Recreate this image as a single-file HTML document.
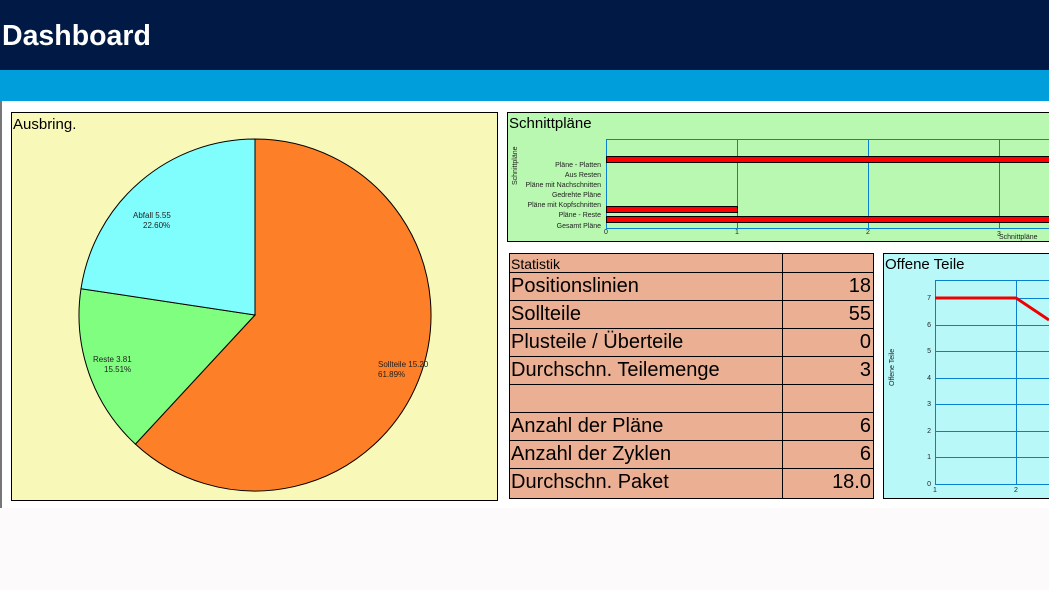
<!DOCTYPE html>
<html><head><meta charset="utf-8"><style>
html,body{margin:0;padding:0;width:1049px;height:590px;overflow:hidden;background:#fcfafa;}
svg{display:block;font-family:"Liberation Sans",Arial,sans-serif;}
</style></head><body>
<svg width="1049" height="590" viewBox="0 0 1049 590" xmlns="http://www.w3.org/2000/svg">
<rect x="0" y="0" width="1049" height="70" fill="#001a45"/>
<text x="2" y="45" font-size="28.5" font-weight="bold" fill="#fff">Dashboard</text>
<rect x="0" y="70" width="1049" height="31" fill="#009fdc"/>
<rect x="0" y="101" width="1049" height="407" fill="#ffffff"/>
<rect x="0" y="101" width="2" height="407" fill="#777"/>

<!-- Ausbring -->
<rect x="11.5" y="112.5" width="486" height="388" fill="#f8f8b8" stroke="#000"/>
<text x="13" y="129" font-size="15">Ausbring.</text>
<path d="M255,315 L255,139 A176,176 0 1 1 135.4,444.1 Z" fill="#fd7f27" stroke="#000"/>
<path d="M255,315 L135.4,444.1 A176,176 0 0 1 81,288.7 Z" fill="#80fe80" stroke="#000"/>
<path d="M255,315 L81,288.7 A176,176 0 0 1 255,139 Z" fill="#80fefe" stroke="#000"/>
<g font-size="8" fill="#222">
<text x="133" y="218">Abfall 5.55</text><text x="143" y="228">22.60%</text>
<text x="93" y="362">Reste 3.81</text><text x="104" y="372">15.51%</text>
<text x="378" y="367">Sollteile 15.20</text><text x="378" y="377">61.89%</text>
</g>

<!-- Schnittpläne -->
<rect x="507.5" y="112.5" width="545" height="129" fill="#b8f8b0" stroke="#000"/>
<text x="509" y="128" font-size="15">Schnittpläne</text>
<g stroke="#0a7fcf" stroke-width="1" fill="none">
<rect x="606.5" y="139.5" width="460" height="89"/>
<line x1="737.5" y1="139" x2="737.5" y2="229"/>
<line x1="868.5" y1="139" x2="868.5" y2="229"/>
<line x1="999.5" y1="139" x2="999.5" y2="229"/>
</g>
<rect x="606.5" y="156.5" width="450" height="6" fill="#f00" stroke="#000"/>
<rect x="606.5" y="206.5" width="131" height="6" fill="#f00" stroke="#000"/>
<rect x="606.5" y="216.5" width="450" height="6" fill="#f00" stroke="#000"/>
<g font-size="7" fill="#222" text-anchor="end">
<text x="601" y="167">Pläne - Platten</text>
<text x="601" y="177">Aus Resten</text>
<text x="601" y="187">Pläne mit Nachschnitten</text>
<text x="601" y="197">Gedrehte Pläne</text>
<text x="601" y="207">Pläne mit Kopfschnitten</text>
<text x="601" y="217">Pläne - Reste</text>
<text x="601" y="228">Gesamt Pläne</text>
</g>
<g font-size="7" fill="#222">
<text x="604" y="234">0</text><text x="735" y="234">1</text><text x="866" y="234">2</text><text x="997" y="236">3</text>
<text x="999" y="239">Schnittpläne</text>
<text transform="translate(517,185) rotate(-90)">Schnittpläne</text>
</g>

<!-- Statistik -->
<g stroke="#000" stroke-width="1">
<rect x="509.5" y="253.5" width="364" height="245" fill="#ebaf93"/>
<line x1="782.5" y1="253" x2="782.5" y2="498"/>
<line x1="509" y1="272.5" x2="873" y2="272.5"/>
<line x1="509" y1="300.5" x2="873" y2="300.5"/>
<line x1="509" y1="328.5" x2="873" y2="328.5"/>
<line x1="509" y1="356.5" x2="873" y2="356.5"/>
<line x1="509" y1="384.5" x2="873" y2="384.5"/>
<line x1="509" y1="412.5" x2="873" y2="412.5"/>
<line x1="509" y1="440.5" x2="873" y2="440.5"/>
<line x1="509" y1="468.5" x2="873" y2="468.5"/>
</g>
<text x="511" y="269" font-size="14">Statistik</text>
<g font-size="20" fill="#000">
<text x="511" y="292">Positionslinien</text>
<text x="511" y="320">Sollteile</text>
<text x="511" y="348">Plusteile / Überteile</text>
<text x="511" y="376">Durchschn. Teilemenge</text>
<text x="511" y="432">Anzahl der Pläne</text>
<text x="511" y="460">Anzahl der Zyklen</text>
<text x="511" y="488">Durchschn. Paket</text>
</g>
<g font-size="20" fill="#000" text-anchor="end">
<text x="871" y="292">18</text>
<text x="871" y="320">55</text>
<text x="871" y="348">0</text>
<text x="871" y="376">3</text>
<text x="871" y="432">6</text>
<text x="871" y="460">6</text>
<text x="871" y="488">18.0</text>
</g>

<!-- Offene Teile -->
<rect x="883.5" y="253.5" width="170" height="245" fill="#b8f8f8" stroke="#000"/>
<text x="885" y="269" font-size="15">Offene Teile</text>
<g stroke="#0a7fcf" stroke-width="1" fill="none">
<line x1="935.5" y1="280" x2="935.5" y2="484"/>
<line x1="1016.5" y1="280" x2="1016.5" y2="484"/>
<line x1="935" y1="280.5" x2="1049" y2="280.5"/>
<line x1="935" y1="298.5" x2="1049" y2="298.5"/>
<line x1="935" y1="325.5" x2="1049" y2="325.5"/>
<line x1="935" y1="351.5" x2="1049" y2="351.5"/>
<line x1="935" y1="378.5" x2="1049" y2="378.5"/>
<line x1="935" y1="404.5" x2="1049" y2="404.5"/>
<line x1="935" y1="431.5" x2="1049" y2="431.5"/>
<line x1="935" y1="457.5" x2="1049" y2="457.5"/>
<line x1="935" y1="484.5" x2="1049" y2="484.5"/>
</g>
<polyline points="935,298 1016,298 1049,320" fill="none" stroke="#e00" stroke-width="3"/>
<g font-size="7" fill="#222" text-anchor="end">
<text x="931" y="300">7</text><text x="931" y="327">6</text><text x="931" y="353">5</text><text x="931" y="380">4</text>
<text x="931" y="406">3</text><text x="931" y="433">2</text><text x="931" y="459">1</text><text x="931" y="486">0</text>
</g>
<g font-size="7" fill="#222">
<text x="933" y="492">1</text><text x="1014" y="492">2</text>
<text transform="translate(894,386) rotate(-90)">Offene Teile</text>
</g>
</svg>
</body></html>
